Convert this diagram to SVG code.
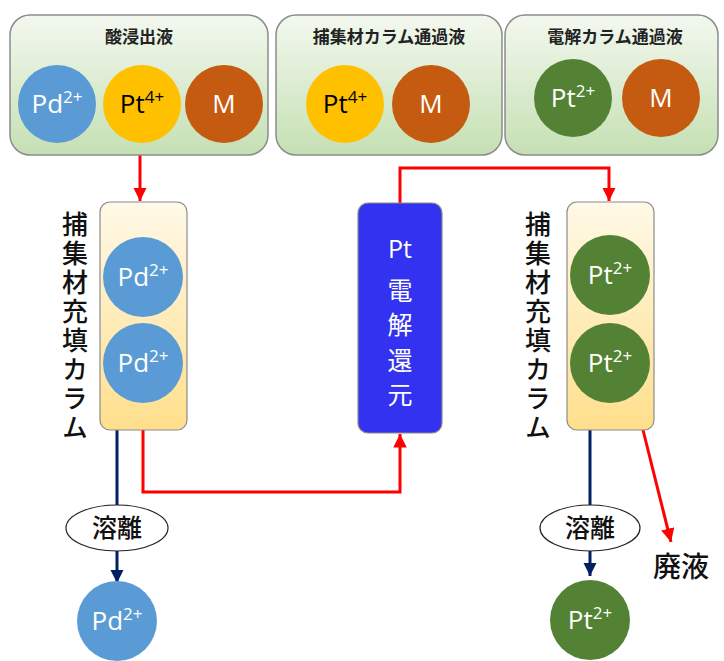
<svg xmlns="http://www.w3.org/2000/svg" width="724" height="661" viewBox="0 0 724 661">
<defs>
<linearGradient id="gGreen" x1="0" y1="0" x2="0" y2="1">
<stop offset="0" stop-color="#f3f8ef"/><stop offset="1" stop-color="#c5e0b3"/>
</linearGradient>
<linearGradient id="gCol" x1="0" y1="0" x2="0" y2="1">
<stop offset="0" stop-color="#fff9e8"/><stop offset="1" stop-color="#ffdf8c"/>
</linearGradient>
<marker id="aRed" viewBox="0 0 10 10" refX="10" refY="5" markerWidth="4.5" markerHeight="4.5" orient="auto" markerUnits="strokeWidth">
<path d="M0,0 L10,5 L0,10 z" fill="#ff0000"/>
</marker>
<marker id="aNavy" viewBox="0 0 10 10" refX="10" refY="5" markerWidth="4.5" markerHeight="4.5" orient="auto" markerUnits="strokeWidth">
<path d="M0,0 L10,5 L0,10 z" fill="#002060"/>
</marker>
</defs>
<style>
.box{fill:url(#gGreen);stroke:#8c8c8c;stroke-width:1.5}
.col{fill:url(#gCol);stroke:#8c8c8c;stroke-width:1.2}
.title{font-family:"Noto Sans CJK JP",sans-serif;font-weight:bold;font-size:17px;fill:#222;text-anchor:middle}
.ion{font-family:"Open Sans","Noto Sans",sans-serif;font-size:26px;text-anchor:middle}
.sup{font-size:17px}
.w{fill:#ffffff}
.k{fill:#000000}
.pd{fill:#5b9bd5}
.pt4{fill:#ffc000}
.m{fill:#c55a11}
.pt2{fill:#548235}
.vt{font-family:"Noto Sans CJK JP",sans-serif;font-size:26px;font-weight:500;fill:#111;writing-mode:vertical-rl;letter-spacing:3px}
.bt{font-family:"Noto Sans CJK JP",sans-serif;font-size:25px;fill:#fff;text-anchor:middle}
.red{fill:none;stroke:#ff0000;stroke-width:3}
.navy{fill:none;stroke:#002060;stroke-width:3}
.jp{font-family:"Noto Sans CJK JP",sans-serif;font-size:25px;font-weight:500;fill:#111;text-anchor:middle}
</style>

<g id="connectors">
<path class="red" d="M140,155 V201" marker-end="url(#aRed)"/>
<path class="red" d="M400,203 V168 H609 V201" marker-end="url(#aRed)"/>
<path class="red" d="M143,430 V492 H400 V434" marker-end="url(#aRed)"/>
<path class="red" d="M643,430 L671,542" marker-end="url(#aRed)"/>
<path class="navy" d="M117,430 V506"/>
<path class="navy" d="M117,551 V583" marker-end="url(#aNavy)"/>
<path class="navy" d="M590,430 V506"/>
<path class="navy" d="M590,551 V576" marker-end="url(#aNavy)"/>
</g>

<g id="box-acid">
<rect class="box" x="10" y="15" width="258" height="140" rx="20"/>
<text class="title" x="139" y="43">酸浸出液</text>
<circle class="pd" cx="57" cy="104" r="39"/>
<text class="ion w" x="57" y="113">Pd<tspan class="sup" dy="-10">2+</tspan></text>
<circle class="pt4" cx="142" cy="104" r="39"/>
<text class="ion k" x="142" y="113">Pt<tspan class="sup" dy="-10">4+</tspan></text>
<circle class="m" cx="224" cy="104" r="39"/>
<text class="ion w" x="224" y="113">M</text>
</g>

<g id="box-pass1">
<rect class="box" x="276" y="15" width="226" height="140" rx="20"/>
<text class="title" x="389" y="43">捕集材カラム通過液</text>
<circle class="pt4" cx="345" cy="104" r="39"/>
<text class="ion k" x="345" y="113">Pt<tspan class="sup" dy="-10">4+</tspan></text>
<circle class="m" cx="431" cy="104" r="39"/>
<text class="ion w" x="431" y="113">M</text>
</g>

<g id="box-pass2">
<rect class="box" x="505" y="15" width="213" height="140" rx="20"/>
<text class="title" x="615" y="43">電解カラム通過液</text>
<circle class="pt2" cx="573" cy="98" r="39"/>
<text class="ion w" x="573" y="107">Pt<tspan class="sup" dy="-10">2+</tspan></text>
<circle class="m" cx="661" cy="98" r="39"/>
<text class="ion w" x="661" y="107">M</text>
</g>

<g id="column-left">
<rect class="col" x="100" y="202" width="87" height="228" rx="10"/>
<circle class="pd" cx="143" cy="277" r="40"/>
<text class="ion w" x="143" y="286">Pd<tspan class="sup" dy="-10">2+</tspan></text>
<circle class="pd" cx="143" cy="363" r="40"/>
<text class="ion w" x="143" y="372">Pd<tspan class="sup" dy="-10">2+</tspan></text>
<text class="vt" x="75" y="211">捕集材充填カラム</text>
</g>

<g id="electrolysis">
<rect x="358" y="203" width="84" height="230" rx="10" fill="#3232f0" stroke="#8c8c8c" stroke-width="1.2"/>
<text class="bt" x="400" y="258" style="font-family:'Open Sans','Noto Sans',sans-serif;font-size:25px">Pt</text>
<text class="bt" x="400" y="300">電</text>
<text class="bt" x="400" y="334">解</text>
<text class="bt" x="400" y="370">還</text>
<text class="bt" x="400" y="404">元</text>
</g>

<g id="column-right">
<rect class="col" x="567" y="202" width="87" height="228" rx="10"/>
<circle class="pt2" cx="610" cy="275" r="40"/>
<text class="ion w" x="610" y="284">Pt<tspan class="sup" dy="-10">2+</tspan></text>
<circle class="pt2" cx="610" cy="363" r="40"/>
<text class="ion w" x="610" y="372">Pt<tspan class="sup" dy="-10">2+</tspan></text>
<text class="vt" x="538" y="211">捕集材充填カラム</text>
</g>

<g id="elution-left">
<ellipse cx="117" cy="528" rx="51" ry="23" fill="#ffffff" stroke="#222" stroke-width="1.2"/>
<text class="jp" x="117" y="537">溶離</text>
</g>

<g id="product-pd">
<circle class="pd" cx="117" cy="621" r="40"/>
<text class="ion w" x="117" y="630">Pd<tspan class="sup" dy="-10">2+</tspan></text>
</g>

<g id="elution-right">
<ellipse cx="590" cy="528" rx="50" ry="23" fill="#ffffff" stroke="#222" stroke-width="1.2"/>
<text class="jp" x="590" y="537">溶離</text>
</g>

<g id="product-pt">
<circle class="pt2" cx="590" cy="620" r="40"/>
<text class="ion w" x="590" y="629">Pt<tspan class="sup" dy="-10">2+</tspan></text>
</g>

<g id="waste">
<text class="jp" x="681" y="577" style="font-size:28px">廃液</text>
</g>
</svg>
